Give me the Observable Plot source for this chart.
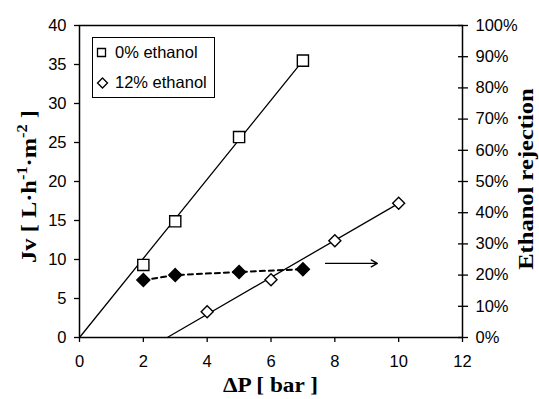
<!DOCTYPE html>
<html><head><meta charset="utf-8">
<script src="https://cdn.jsdelivr.net/npm/d3@7"></script>
<script src="https://cdn.jsdelivr.net/npm/@observablehq/plot@0.6"></script>
<style>body{margin:0;background:#fff}</style>
</head><body><div id="chart"></div>
<script>
// ---- data ----
const pressure0 = [2, 3, 5, 7];              // ΔP [bar], 0% ethanol
const flux0 = [9.3, 14.9, 25.7, 35.5];       // Jv
const pressure12 = [4, 6, 8, 10];            // ΔP [bar], 12% ethanol
const flux12 = [3.3, 7.4, 12.4, 17.2];       // Jv
const pressureRej = [2, 3, 5, 7];            // ΔP [bar]
const rejection = [18.4, 20.0, 21.0, 21.9];  // Ethanol rejection [%]
const fit0P = [0, 7], fit0J = [0, 35.5];     // trend line 0% ethanol
const fit12P = [2.75, 10], fit12J = [0, 17.2]; // trend line 12% ethanol
const arrowP = [7.71, 9.33], arrowJ = [9.5, 9.5]; // arrow pointing to right axis
const xTicks = [0, 2, 4, 6, 8, 10, 12];
const yTicks = [0, 5, 10, 15, 20, 25, 30, 35, 40];
const rejTicks = [0, 10, 20, 30, 40, 50, 60, 70, 80, 90, 100];
const legendLabels = ["0% ethanol", "12% ethanol"];

const Y_MAX = 40, REJ_MAX = 100, k = Y_MAX / REJ_MAX;
const set0 = pressure0.map((p, i) => ({p, j: flux0[i]}));
const set12 = pressure12.map((p, i) => ({p, j: flux12[i]}));
const rej = pressureRej.map((p, i) => ({p, r: rejection[i]}));
const fit0 = fit0P.map((p, i) => ({p, j: fit0J[i]}));
const fit12 = fit12P.map((p, i) => ({p, j: fit12J[i]}));
const arrows = [{x1: arrowP[0], x2: arrowP[1], y1: arrowJ[0], y2: arrowJ[1]}];

const font = "Liberation Sans, Arial, sans-serif";
const plot = Plot.plot({
  width: 539, height: 399,
  marginLeft: 79, marginRight: 77, marginTop: 25, marginBottom: 62,
  style: {fontFamily: font, fontSize: "16.5px", color: "black", background: "white", overflow: "visible"},
  x: {domain: [0, 12]},
  y: {domain: [0, Y_MAX]},
  marks: [
    Plot.frame({stroke: "black", strokeWidth: 1.5}),
    Plot.axisX(xTicks, {tickSize: 5, tickPadding: 13, label: null, strokeWidth: 1.3}),
    Plot.axisY(yTicks, {anchor: "left", tickSize: 5, tickPadding: 8, label: null, strokeWidth: 1.3}),
    Plot.axisY(rejTicks.map(v => v * k), {anchor: "right", tickSize: 10, dx: -5, tickFormat: () => "", label: null, strokeWidth: 1.3}),
    Plot.axisY(rejTicks.map(v => v * k), {anchor: "right", tickSize: 0, tickPadding: 13, tickFormat: v => Math.round(v / k) + "%", label: null}),
    Plot.line(fit0, {x: "p", y: "j", stroke: "black", strokeWidth: 1.3}),
    Plot.line(fit12, {x: "p", y: "j", stroke: "black", strokeWidth: 1.3}),
    Plot.line(rej, {x: "p", y: d => d.r * k, stroke: "black", strokeWidth: 2, strokeDasharray: "5,4"}),
    Plot.dot(set0, {x: "p", y: "j", symbol: "square", r: 6.3, fill: "white", stroke: "black", strokeWidth: 1.4}),
    Plot.dot(set12, {x: "p", y: "j", symbol: "diamond2", r: 5.4, fill: "white", stroke: "black", strokeWidth: 1.4}),
    Plot.dot(rej, {x: "p", y: d => d.r * k, symbol: "diamond2", r: 5.8, fill: "black", stroke: "black"}),
    Plot.arrow(arrows, {x1: "x1", y1: "y1", x2: "x2", y2: "y2", stroke: "black", strokeWidth: 1.3, headLength: 8})
  ]
});
document.getElementById("chart").appendChild(plot);

const svg = d3.select(plot);
function addLabel(parts, x, y, rot, target) {
  const t = svg.append("text")
    .attr("font-family", "Liberation Serif, Times New Roman, serif")
    .attr("font-weight", "bold").attr("font-size", 21)
    .attr("text-anchor", "middle").attr("fill", "black");
  let shifted = false;
  parts.forEach(([s, sup]) => {
    const ts = t.append("tspan").text(s);
    if (sup) { ts.attr("font-size", 14).attr("dy", shifted ? 0 : -9); shifted = true; }
    else { if (shifted) ts.attr("dy", 9); shifted = false; }
  });
  const w = t.node().getBBox().width;
  const sx = target / w;
  t.attr("transform", `translate(${x},${y}) rotate(${rot}) scale(${sx},1)`);
}
addLabel([["Jv [ L·h"], ["-1", true], ["·m"], ["-2", true], [" ]"]], 36, 186.5, -90, 153);
addLabel([["Ethanol rejection"]], 533, 179, -90, 182);
addLabel([["ΔP [ bar ]"]], 270.5, 392, 0, 95);

// legend
const lg = svg.append("g").attr("text-anchor", "start");
lg.append("rect").attr("x", 92.5).attr("y", 37.5).attr("width", 122).attr("height", 60)
  .attr("fill", "white").attr("stroke", "black").attr("stroke-width", 1);
lg.append("path").attr("d", d3.symbol(d3.symbolSquare, 64)()).attr("transform", "translate(101.5,52.5)")
  .attr("fill", "white").attr("stroke", "black").attr("stroke-width", 1.3);
lg.append("path").attr("d", d3.symbol(d3.symbolDiamond2, 64)()).attr("transform", "translate(102.5,83)")
  .attr("fill", "white").attr("stroke", "black").attr("stroke-width", 1.3);
legendLabels.forEach((s, i) => {
  lg.append("text").attr("x", 115).attr("y", 58 + i * 30).attr("font-family", font)
    .attr("text-anchor", "start").attr("font-size", 16.5).attr("fill", "black").text(s);
});
</script>
</body></html>
